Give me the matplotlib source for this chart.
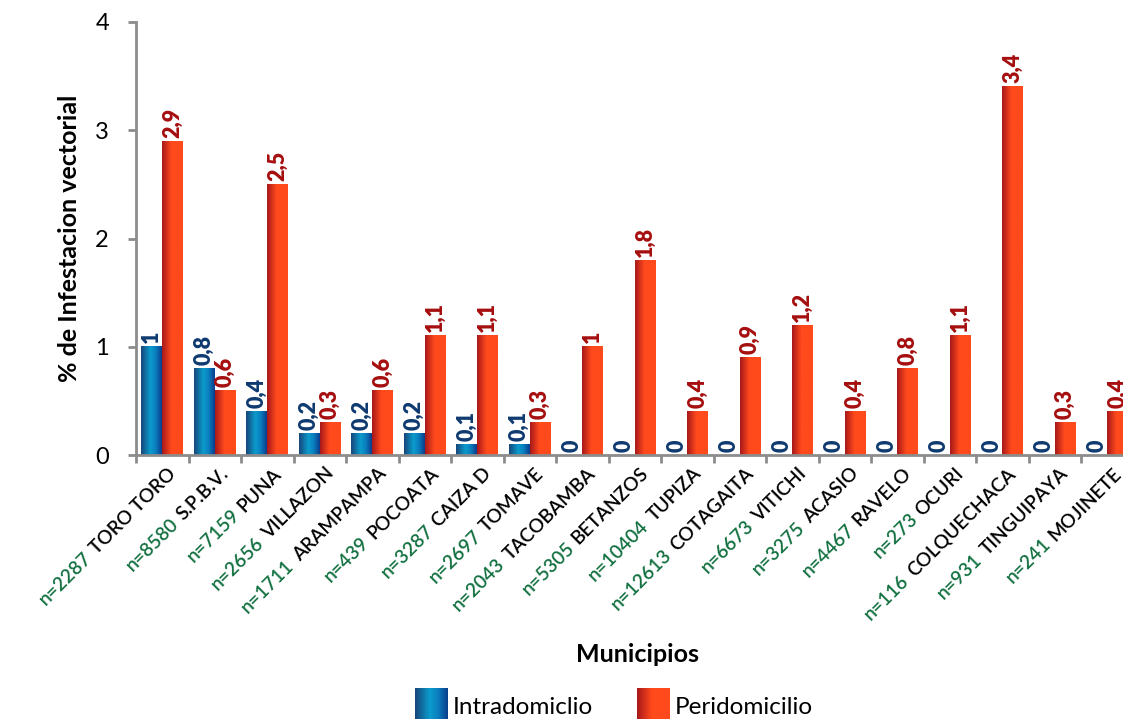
import matplotlib
matplotlib.use("Agg")
import matplotlib.pyplot as plt
import numpy as np
from matplotlib.colors import LinearSegmentedColormap
from matplotlib.textpath import TextPath
from matplotlib.font_manager import FontProperties

municipios = ["TORO TORO", "S.P.B.V.", "PUNA", "VILLAZON", "ARAMPAMPA", "POCOATA",
              "CAIZA D", "TOMAVE", "TACOBAMBA", "BETANZOS", "TUPIZA", "COTAGAITA",
              "VITICHI", "ACASIO", "RAVELO", "OCURI", "COLQUECHACA", "TINGUIPAYA",
              "MOJINETE"]
muestras = [2287, 8580, 7159, 2656, 1711, 439, 3287, 2697, 2043, 5305, 10404, 12613,
            6673, 3275, 4467, 273, 116, 931, 241]
intradomicilio = [1, 0.8, 0.4, 0.2, 0.2, 0.2, 0.1, 0.1, 0, 0, 0, 0, 0, 0, 0, 0, 0, 0, 0]
peridomicilio = [2.9, 0.6, 2.5, 0.3, 0.6, 1.1, 1.1, 0.3, 1, 1.8, 0.4, 0.9, 1.2, 0.4,
                 0.8, 1.1, 3.4, 0.3, 0.4]

FONT = "Lato"
blue_cmap = LinearSegmentedColormap.from_list(
    "blue", [(0, "#17467a"), (0.45, "#0a9ccc"), (0.7, "#0b7fbf"), (1, "#0a3d8c")])
red_cmap = LinearSegmentedColormap.from_list(
    "red", [(0, "#a8181a"), (0.45, "#ff4a1c"), (1, "#ff4a1c")])
grad = np.linspace(0, 1, 64).reshape(1, -1)


def fmt(v):
    return f"{v:g}".replace(".", ",")


fig = plt.figure(figsize=(11.23, 7.19), dpi=100)
ax = fig.add_axes([136 / 1123, 264 / 719, 997.5 / 1123, 433 / 719])

x = np.arange(len(municipios))
w = 0.4
bars_i = ax.bar(x - w / 2, intradomicilio, w, color="none", linewidth=0)
bars_p = ax.bar(x + w / 2, peridomicilio, w, color="none", linewidth=0)

for bars, cmap, col in [(bars_i, blue_cmap, "#0f3a70"), (bars_p, red_cmap, "#a50e0e")]:
    for b in bars:
        x0, h = b.get_x(), b.get_height()
        if h > 0:
            ax.imshow(grad, extent=[x0, x0 + b.get_width(), 0, h], aspect="auto",
                      cmap=cmap, zorder=2, interpolation="bilinear")
        ax.annotate(fmt(h), (x0 + b.get_width() / 2, h), xytext=(0, 2.5),
                    textcoords="offset points", rotation=90, ha="center", va="bottom",
                    color=col, fontsize=15.5, fontweight="heavy", family=FONT,
                    annotation_clip=False)

ax.set_xlim(-0.5, len(municipios) - 0.5)
ax.set_ylim(0, 4)
ax.set_yticks([0, 1, 2, 3, 4])
ax.set_yticklabels(["0", "1", "2", "3", "4"], fontsize=17, family=FONT)
ax.set_xticks(np.arange(len(municipios) + 1) - 0.5)
ax.set_xticklabels([])
for s in ["top", "right"]:
    ax.spines[s].set_visible(False)
for s in ["left", "bottom"]:
    ax.spines[s].set_color("#8c8c8c")
    ax.spines[s].set_linewidth(2)
ax.tick_params(axis="both", color="#8c8c8c", width=2, length=6)
ax.tick_params(axis="y", length=5.5, pad=14)

# two-coloured rotated tick labels
fs = 13.8
fp = FontProperties(family=FONT, size=fs, weight="semibold")
c45 = np.cos(np.radians(45))
for i, (name, n) in enumerate(zip(municipios, muestras)):
    ax.annotate(name, (i, 0), xycoords=("data", "axes fraction"),
                xytext=(3.5, -7), textcoords="offset points", rotation=45,
                rotation_mode="anchor", ha="right", va="top", fontsize=fs,
                fontweight="semibold", family=FONT, color="black",
                annotation_clip=False)
    wdt = TextPath((0, 0), name, prop=fp).get_extents().width + fs * 0.35
    ax.annotate(f"n={n}", (i, 0), xycoords=("data", "axes fraction"),
                xytext=(3.5 - wdt * c45, -7 - wdt * c45), textcoords="offset points",
                rotation=45, rotation_mode="anchor", ha="right", va="top",
                fontsize=fs, fontweight="semibold", family=FONT, color="#127040",
                annotation_clip=False)

fig.text(70 / 1123, 1 - 238 / 719, "% de Infestacion vectorial", rotation=90,
         ha="center", va="center", fontsize=18, fontweight="bold", family=FONT)
fig.text(637 / 1123, 1 - 655 / 719, "Municipios", ha="center", va="center",
         fontsize=18, fontweight="bold", family=FONT)

# legend
for px, cmap, label in [(415, blue_cmap, "Intradomiclio"), (637, red_cmap, "Peridomicilio")]:
    lax = fig.add_axes([px / 1123, 0, 33 / 1123, 31 / 719])
    lax.imshow(grad, aspect="auto", cmap=cmap, interpolation="bilinear")
    lax.axis("off")
    fig.text((px + 38) / 1123, 1 - 707 / 719, label, ha="left", va="center",
             fontsize=17.5, family=FONT)

fig.savefig("out.png", dpi=100)
